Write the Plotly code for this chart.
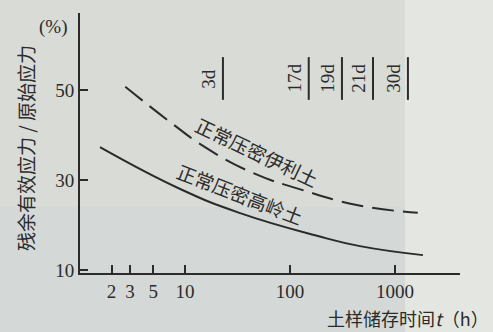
import math
import plotly.graph_objects as go

# Residual effective stress / initial stress (%) vs storage time t (h)
kaolin_t = [1.55, 9.0, 33, 181, 464, 1850]
kaolin_ratio = [37.3, 28.0, 22.7, 17.6, 15.3, 13.3]

illite_t = [2.7, 7.2, 15.5, 44, 130, 444, 1650]
illite_ratio = [50.7, 42.9, 37.3, 31.6, 27.8, 24.4, 22.7]

x_tick_vals = [2, 3, 5, 10, 100, 1000]
y_tick_vals = [10, 30, 50]

day_labels = ["3d", "17d", "19d", "21d", "30d"]
day_marks = [23, 151, 313, 618, 1330]

ink = "#2b2b2b"
serif = "Liberation Serif, DejaVu Serif, serif"
cjk = "Noto Sans CJK SC, sans-serif"

W, H = 493, 332
L, R, T, B = 80, 33, 13, 59
pw, ph = W - L - R, H - T - B


def px_x(p):
    return (p - L) / pw


def px_y(p):
    return 1 - (p - T) / ph


fig = go.Figure()
fig.add_trace(go.Scatter(x=illite_t, y=illite_ratio, mode="lines",
                         line=dict(color=ink, width=2, dash="22px,9px", shape="spline",
                                   smoothing=1.3),
                         showlegend=False))
fig.add_trace(go.Scatter(x=kaolin_t, y=kaolin_ratio, mode="lines",
                         line=dict(color=ink, width=2, shape="spline", smoothing=1.3),
                         showlegend=False))

shapes = [
    # paper tint: lighter strip on the right, bluish band at the bottom
    dict(type="rect", xref="paper", yref="paper", x0=px_x(405), x1=px_x(W + 5),
         y0=px_y(H + 5), y1=px_y(-5), fillcolor="rgba(236,238,236,0.55)",
         line_width=0, layer="below"),
    dict(type="rect", xref="paper", yref="paper", x0=px_x(-5), x1=px_x(405),
         y0=px_y(H + 5), y1=px_y(207), fillcolor="rgba(200,212,218,0.25)",
         line_width=0, layer="below"),
]
annotations = []
for lab, h in zip(day_labels, day_marks):
    shapes.append(dict(type="line", xref="x", yref="y", x0=h, x1=h, y0=47.8, y1=57.3,
                       line=dict(color=ink, width=2)))
    annotations.append(dict(x=math.log10(h), y=52.6, xref="x", yref="y", text=lab,
                            showarrow=False, textangle=-90, xanchor="right",
                            yanchor="middle", xshift=-2,
                            font=dict(family=serif, size=19, color=ink)))

annotations += [
    dict(x=px_x(257), y=px_y(151), xref="paper", yref="paper", text="正常压密伊利土",
         showarrow=False, textangle=25.5, xanchor="center", yanchor="middle",
         font=dict(family=cjk, size=19, color=ink)),
    dict(x=px_x(240), y=px_y(193), xref="paper", yref="paper", text="正常压密高岭土",
         showarrow=False, textangle=21, xanchor="center", yanchor="middle",
         font=dict(family=cjk, size=19, color=ink)),
    dict(x=px_x(53), y=px_y(27), xref="paper", yref="paper", xanchor="center",
         yanchor="middle", text="(%)", showarrow=False,
         font=dict(family=serif, size=19, color=ink)),
    dict(x=px_x(25), y=px_y(148), xref="paper", yref="paper", xanchor="center",
         yanchor="middle", text="残余有效应力 / 原始应力", showarrow=False,
         textangle=-90, font=dict(family=cjk, size=19, color=ink)),
    dict(x=px_x(491), y=px_y(318), xref="paper", yref="paper", xanchor="right",
         yanchor="middle", text="土样储存时间<i>t</i>（h）", showarrow=False,
         font=dict(family=cjk, size=18, color=ink)),
]

fig.update_layout(
    width=W, height=H,
    margin=dict(l=L, r=R, t=T, b=B),
    paper_bgcolor="#d9dbd6", plot_bgcolor="rgba(0,0,0,0)",
    shapes=shapes, annotations=annotations,
    xaxis=dict(type="log", range=[0, 3.62], tickvals=x_tick_vals,
               ticktext=[str(v) for v in x_tick_vals], ticks="inside", ticklen=8,
               tickwidth=1.5, tickcolor=ink, showline=True, linecolor=ink, linewidth=2,
               showgrid=False, zeroline=False,
               tickfont=dict(family=serif, size=19, color=ink)),
    yaxis=dict(range=[9.33, 67.1], tickvals=y_tick_vals, ticks="inside", ticklen=8,
               tickwidth=1.5, tickcolor=ink, showline=True, linecolor=ink, linewidth=2,
               showgrid=False, zeroline=False,
               tickfont=dict(family=serif, size=19, color=ink)),
)

fig.write_html("out.html")
